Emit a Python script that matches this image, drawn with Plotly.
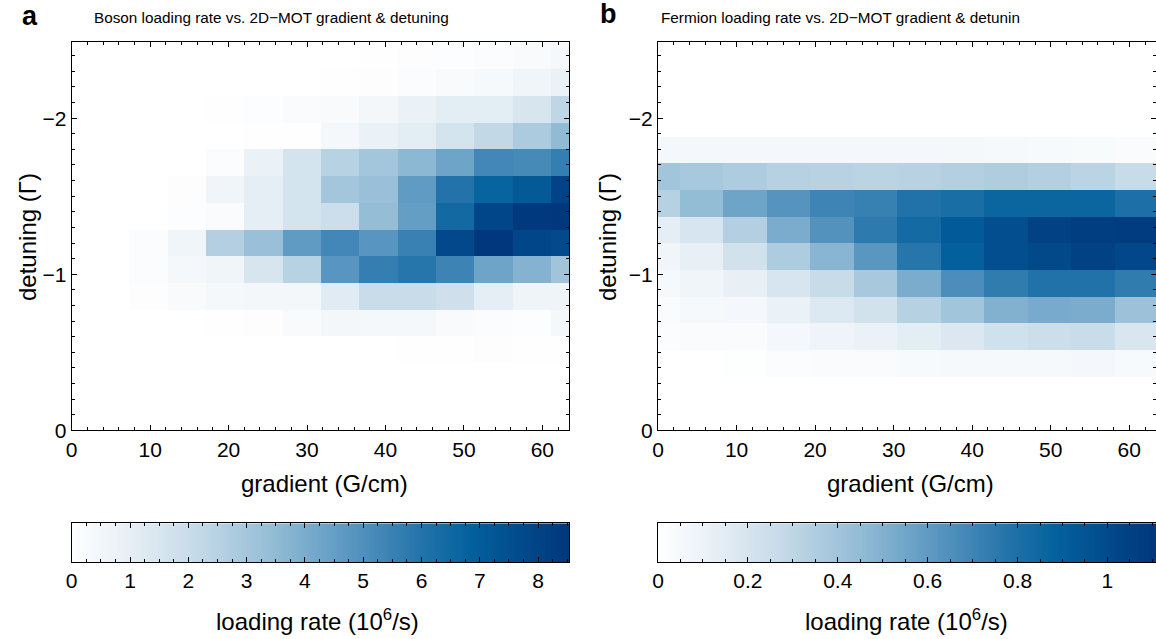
import numpy as np
import plotly.graph_objects as go

W, H = 1156, 639

# ---------------- data ----------------
boson_gradient = [0.0, 4.89, 9.78, 14.67, 19.56, 24.45, 29.34, 34.23, 39.12, 44.01, 48.9, 53.79, 58.68, 63.57]
boson_detuning = [-2.398, -2.227, -2.056, -1.885, -1.713, -1.542, -1.371, -1.200, -1.028, -0.857, -0.686, -0.514, -0.343]
boson_rate = [
    [0, 0, 0, 0, 0, 0, 0, 0, 0.05, 0.10, 0.15, 0.20, 0.30, 0.40],
    [0, 0, 0, 0, 0, 0, 0, 0.05, 0.10, 0.20, 0.30, 0.35, 0.60, 0.80],
    [0, 0, 0, 0, 0.05, 0.15, 0.25, 0.30, 0.50, 0.80, 1.10, 1.10, 1.50, 2.30],
    [0, 0, 0, 0, 0, 0.05, 0.05, 0.40, 0.80, 1.10, 1.60, 2.20, 2.80, 3.50],
    [0, 0, 0, 0, 0.20, 0.80, 1.60, 2.50, 3.00, 3.60, 4.30, 5.30, 5.20, 5.60],
    [0, 0, 0, 0.10, 0.60, 1.00, 1.60, 3.00, 3.30, 4.60, 6.00, 6.70, 7.10, 8.00],
    [0, 0, 0, 0.15, 0.25, 1.00, 1.60, 1.90, 3.40, 4.50, 6.40, 7.90, 8.40, 8.50],
    [0, 0, 0.20, 0.60, 2.60, 3.30, 4.60, 5.30, 4.80, 5.50, 7.80, 8.50, 7.90, 7.70],
    [0, 0, 0.20, 0.40, 0.60, 1.50, 2.50, 4.80, 5.60, 5.90, 5.40, 4.30, 3.80, 3.10],
    [0, 0, 0.10, 0.30, 0.40, 0.50, 0.50, 1.20, 2.00, 2.00, 1.80, 1.00, 0.70, 0.70],
    [0, 0, 0, 0, 0.05, 0.10, 0.30, 0.50, 0.40, 0.40, 0.30, 0.20, 0.15, 0.40],
    [0, 0, 0, 0, 0, 0, 0, 0, 0, 0.05, 0.05, 0.10, 0.05, 0.05],
    [0, 0, 0, 0, 0, 0, 0, 0, 0, 0, 0, 0, 0, 0],
]

fermion_gradient = [0.0, 5.54, 11.08, 16.62, 22.16, 27.7, 33.24, 38.78, 44.32, 49.86, 55.4, 60.94]
fermion_detuning = [-2.137, -1.966, -1.795, -1.624, -1.453, -1.282, -1.111, -0.940, -0.769, -0.598, -0.427, -0.256]
fermion_rate = [
    [0, 0, 0, 0, 0, 0, 0, 0, 0, 0, 0, 0],
    [0, 0, 0, 0, 0, 0, 0, 0, 0, 0, 0, 0],
    [0.06, 0.06, 0.06, 0.06, 0.06, 0.06, 0.06, 0.055, 0.05, 0.04, 0.035, 0.03],
    [0.40, 0.38, 0.36, 0.33, 0.32, 0.31, 0.32, 0.34, 0.35, 0.34, 0.31, 0.27],
    [0.33, 0.45, 0.56, 0.63, 0.70, 0.72, 0.79, 0.81, 0.86, 0.86, 0.86, 0.80],
    [0.13, 0.20, 0.34, 0.52, 0.64, 0.75, 0.83, 0.92, 0.98, 1.05, 1.07, 1.08],
    [0.08, 0.12, 0.22, 0.36, 0.48, 0.62, 0.77, 0.89, 0.98, 1.01, 1.05, 1.02],
    [0.05, 0.08, 0.12, 0.20, 0.27, 0.38, 0.52, 0.66, 0.74, 0.79, 0.79, 0.74],
    [0.03, 0.05, 0.06, 0.11, 0.17, 0.22, 0.33, 0.40, 0.50, 0.53, 0.52, 0.42],
    [0.02, 0.03, 0.03, 0.06, 0.09, 0.11, 0.14, 0.18, 0.23, 0.25, 0.26, 0.19],
    [0.0, 0.0, 0.01, 0.02, 0.03, 0.03, 0.04, 0.05, 0.05, 0.05, 0.06, 0.04],
    [0, 0, 0, 0, 0, 0, 0, 0, 0, 0, 0, 0],
]

boson_cmax = 8.53
fermion_cmax = 1.108

titles = ["Boson loading rate vs. 2D\u2212MOT gradient & detuning",
          "Fermion loading rate vs. 2D\u2212MOT gradient & detunin"]
panel_letters = ["a", "b"]
x_label = "gradient (G/cm)"
y_label = "detuning (\u0393)"
cb_label = "loading rate (10<sup>6</sup>/s)"

# ---------------- style ----------------
FONT = "Liberation Sans, Arial, Helvetica, sans-serif"
colorscale = [
    [0.0, "#ffffff"], [0.1, "#eaf1f7"], [0.25, "#c5dae8"], [0.4, "#95bdd6"],
    [0.5, "#6fa5c9"], [0.6, "#4a8cba"], [0.7, "#2474aa"], [0.8, "#03619d"],
    [0.9, "#024b8c"], [1.0, "#00367c"],
]

def px_x(p):
    return p / W

def px_y(p):
    return 1 - p / H

plot_top, plot_bot = 41.7, 430.3
cb_top, cb_bot = 523.3, 562.0
L_left, L_right = 71.7, 569.0
R_left, R_right = 658.0, 1156.0

fig = go.Figure()

fig.add_trace(go.Heatmap(x=boson_gradient, y=boson_detuning, z=boson_rate,
                         colorscale=colorscale, zmin=0, zmax=boson_cmax,
                         showscale=False, xaxis="x", yaxis="y", hoverinfo="skip"))
fig.add_trace(go.Heatmap(x=fermion_gradient, y=fermion_detuning, z=fermion_rate,
                         colorscale=colorscale, zmin=0, zmax=fermion_cmax,
                         showscale=False, xaxis="x2", yaxis="y2", hoverinfo="skip"))

# colour bars drawn as strips on their own axes
for cmax, xa, ya in [(boson_cmax, "x3", "y3"), (fermion_cmax, "x4", "y4")]:
    vals = np.linspace(0, cmax, 400)
    fig.add_trace(go.Heatmap(x=vals, y=[0.5], z=[vals], colorscale=colorscale,
                             zmin=0, zmax=cmax, showscale=False,
                             xaxis=xa, yaxis=ya, hoverinfo="skip"))

tickfont = dict(family=FONT, size=21, color="black")

def axstyle(**kw):
    d = dict(showline=True, linecolor="black", linewidth=1, mirror="allticks",
             ticks="inside", ticklen=5, tickcolor="black", tickwidth=1,
             showgrid=False, zeroline=False, tickfont=tickfont, automargin=False)
    d.update(kw)
    return d

minor_x = dict(dtick=2, ticks="inside", ticklen=3, tickcolor="black", showgrid=False)
minor_y = dict(dtick=0.1, ticks="inside", ticklen=3, tickcolor="black", showgrid=False)

fig.update_layout(
    width=W, height=H, margin=dict(l=0, r=0, t=0, b=0, pad=0), autosize=False,
    paper_bgcolor="white", plot_bgcolor="white", showlegend=False,
    font=dict(family=FONT, color="black"),
    xaxis=axstyle(domain=[px_x(L_left), px_x(L_right)], range=[0, 63.4], dtick=10,
                  minor=minor_x, anchor="y"),
    yaxis=axstyle(domain=[px_y(plot_bot), px_y(plot_top)], range=[0, -2.49], dtick=1,
                  minor=minor_y, anchor="x"),
    xaxis2=axstyle(domain=[px_x(R_left), px_x(R_right)], range=[0, 63.4], dtick=10,
                   minor=minor_x, anchor="y2"),
    yaxis2=axstyle(domain=[px_y(plot_bot), px_y(plot_top)], range=[0, -2.49], dtick=1,
                   minor=minor_y, anchor="x2"),
    xaxis3=axstyle(domain=[px_x(L_left), px_x(L_right)], range=[0, boson_cmax], dtick=1,
                   minor=dict(dtick=0.25, ticks="inside", ticklen=3, tickcolor="black"),
                   anchor="y3"),
    yaxis3=axstyle(domain=[px_y(cb_bot), px_y(cb_top)], range=[0, 1], ticks="",
                   showticklabels=False, anchor="x3", mirror=True),
    xaxis4=axstyle(domain=[px_x(R_left), px_x(R_right)], range=[0, fermion_cmax], dtick=0.2,
                   minor=dict(dtick=0.05, ticks="inside", ticklen=3, tickcolor="black"),
                   anchor="y4"),
    yaxis4=axstyle(domain=[px_y(cb_bot), px_y(cb_top)], range=[0, 1], ticks="",
                   showticklabels=False, anchor="x4", mirror=True),
)

ann = []
def add_text(text, x, y, size, bold=False, angle=0):
    ann.append(dict(text=("<b>%s</b>" % text) if bold else text, x=px_x(x), y=px_y(y),
                    xref="paper", yref="paper", showarrow=False, xanchor="center",
                    yanchor="middle", textangle=angle,
                    font=dict(family=FONT, size=size, color="black")))

add_text(panel_letters[0], 29.5, 16, 27, bold=True)
add_text(panel_letters[1], 608, 14, 27, bold=True)
add_text(titles[0], 271.5, 18, 15.3)
add_text(titles[1], 840, 18, 15.3)
add_text(x_label, 324.5, 483, 24)
add_text(x_label, 910.5, 483, 24)
add_text(y_label, 27, 237, 24, angle=-90)
add_text(y_label, 607, 237, 24, angle=-90)
add_text(cb_label, 317.5, 620, 24)
add_text(cb_label, 906, 620, 24)
fig.update_layout(annotations=ann)

fig.write_html("out.html")
